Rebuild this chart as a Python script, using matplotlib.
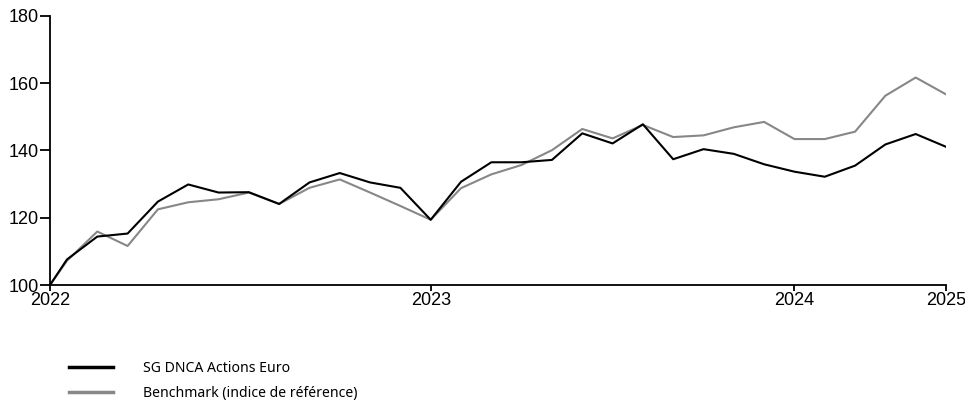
import matplotlib.pyplot as plt

# ---------------------------------------------------------------------------
# Data (index base 100)
# ---------------------------------------------------------------------------
X_POS = [0.0, 0.56, 1.56, 2.56, 3.56, 4.56, 5.56, 6.56, 7.56, 8.56, 9.56,
         10.56, 11.56, 12.56, 13.56, 14.56, 15.56, 16.56, 17.56, 18.56,
         19.56, 20.56, 21.56, 22.56, 23.56, 24.56, 25.56, 26.56, 27.56,
         28.56, 29.56]

FUND = [100.0, 107.6, 114.4, 115.3, 124.8, 129.9, 127.5, 127.6, 124.1,
        130.5, 133.3, 130.5, 128.9, 119.4, 130.7, 136.5, 136.5, 137.2,
        145.1, 142.1, 147.8, 137.4, 140.4, 139.0, 135.9, 133.7, 132.2,
        135.5, 141.8, 144.9, 141.1]

BENCH = [100.0, 107.2, 115.9, 111.6, 122.5, 124.6, 125.5, 127.5, 124.1,
         128.9, 131.4, 127.5, 123.5, 119.4, 128.8, 132.9, 135.7, 140.1,
         146.4, 143.6, 147.6, 144.0, 144.5, 146.9, 148.5, 143.4, 143.4,
         145.6, 156.3, 161.7, 156.7]

TICK_POS = [0.0, 12.56, 24.56, 29.56]
TICK_LABELS = ["2022", "2023", "2024", "2025"]
Y_TICKS = [100, 120, 140, 160, 180]

LABEL_FUND = "SG DNCA Actions Euro"
LABEL_BENCH = "Benchmark (indice de référence)"

COLOR_FUND = "#000000"
COLOR_BENCH = "#878787"


def main() -> None:
    fig = plt.figure(figsize=(9.65, 4.01), dpi=100)
    ax = fig.add_axes([50 / 965, 1 - 285 / 401, 896 / 965, 269 / 401])

    line_b, = ax.plot(X_POS, BENCH, color=COLOR_BENCH, linewidth=1.5,
                      label=LABEL_BENCH, zorder=2)
    line_f, = ax.plot(X_POS, FUND, color=COLOR_FUND, linewidth=1.5,
                      label=LABEL_FUND, zorder=3)

    ax.set_xlim(X_POS[0], X_POS[-1])
    ax.set_ylim(100, 180)
    ax.set_xticks(TICK_POS)
    ax.set_xticklabels(TICK_LABELS, family="Liberation Sans", fontsize=13)
    ax.set_yticks(Y_TICKS)
    ax.set_yticklabels([str(v) for v in Y_TICKS], family="Liberation Sans",
                       fontsize=13)

    for side in ("top", "right"):
        ax.spines[side].set_visible(False)
    for side in ("left", "bottom"):
        ax.spines[side].set_linewidth(1.3)
        ax.spines[side].set_clip_on(False)
    ax.tick_params(axis="y", length=7.5, width=1.3, pad=0.8, color="black")
    ax.tick_params(axis="x", length=4, width=1.3, pad=1.2, color="black")

    leg = fig.legend(
        handles=[line_f, line_b],
        labels=[LABEL_FUND, LABEL_BENCH],
        loc="upper left",
        bbox_to_anchor=(62 / 965, 1 - 354 / 401),
        frameon=False,
        prop={"family": "Noto Sans", "size": 10.1},
        handlelength=3.1,
        handletextpad=2.2,
        labelspacing=0.7,
        borderpad=0,
    )
    for h in leg.legend_handles:
        h.set_linewidth(2.5)

    fig.savefig("out.png", dpi=100)


if __name__ == "__main__":
    main()
